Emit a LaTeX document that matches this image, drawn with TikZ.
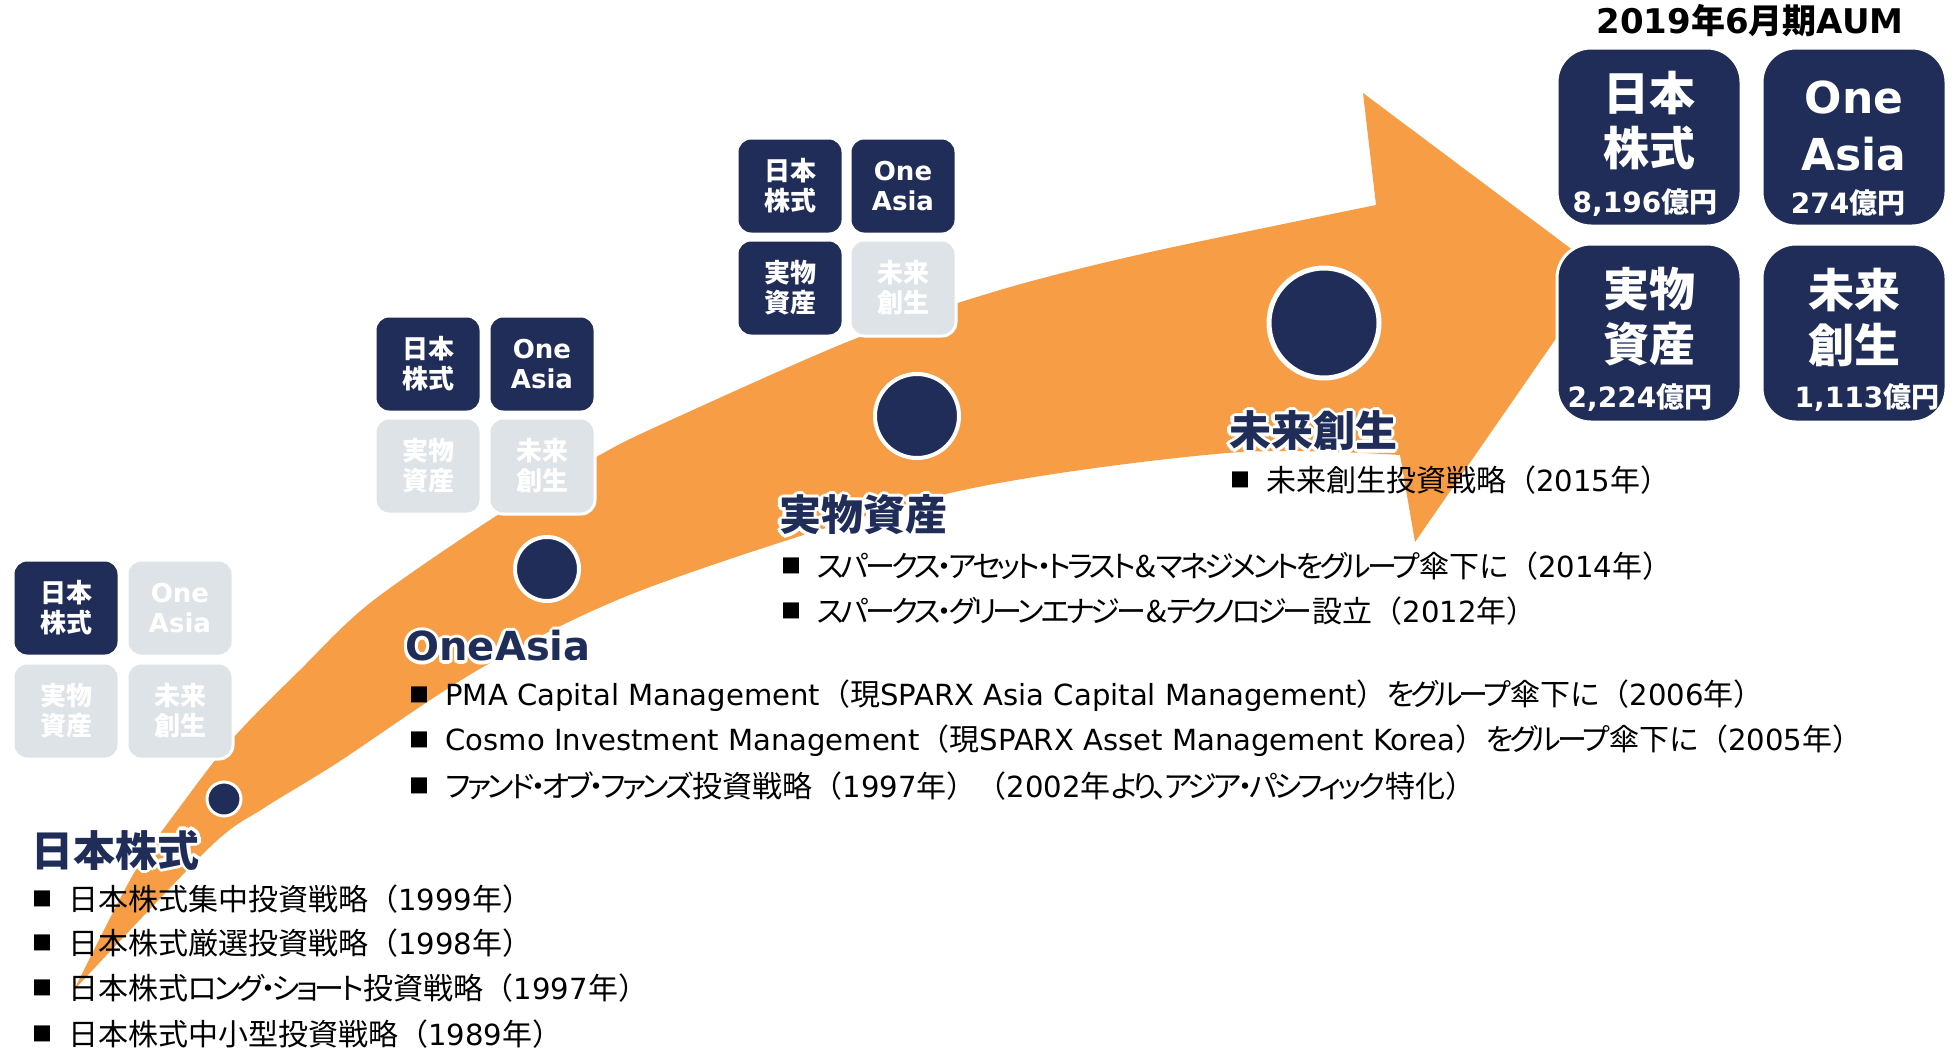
\documentclass[tikz,border=0pt]{standalone}
\usepackage{fontspec}
\setmainfont{Noto Sans CJK JP}
\newfontfamily\kn{Noto Sans CJK JP}[RawFeature=+palt, LetterSpace=-12]
\newfontfamily\lat{DejaVu Sans}
\newfontfamily\lt{DejaVu Sans}[Scale=0.97]

\definecolor{navy}{RGB}{31,45,88}
\definecolor{arroworange}{RGB}{246,157,69}
\definecolor{tilegray}{RGB}{222,227,232}

\tikzstyle{tile}=[rectangle, rounded corners=7pt, fill=navy, draw=white,
                  line width=1.5pt, minimum width=53pt, minimum height=48pt,
                  inner sep=0pt, align=center, text=white,
                  font=\bfseries\fontsize{13}{15}\selectfont]
\tikzstyle{tileoff}=[tile, fill=tilegray]
\tikzstyle{tilelat}=[font=\lat\bfseries\fontsize{13}{15}\selectfont]
\tikzstyle{bigtile}=[tile, rounded corners=17pt,
                     minimum width=92pt, minimum height=89pt]
\tikzstyle{bigtext}=[align=center, text=white, inner sep=0pt,
                     font=\bfseries\fontsize{23}{27.5}\selectfont]
\tikzstyle{amount}=[text=white, inner sep=0pt,
                    font=\bfseries\fontsize{14}{16}\selectfont]
\tikzstyle{milestone}=[circle, fill=navy, draw=white, line width=2pt, inner sep=0pt]
\tikzstyle{heading}=[inner sep=0pt, text=navy,
                     font=\bfseries\fontsize{21}{24}\selectfont]
\tikzstyle{entry}=[anchor=west, inner sep=0pt,
                   font=\fontsize{15}{17}\selectfont]

\newcommand{\bul}{\raisebox{1.9pt}{\fontsize{10}{10}\selectfont ■}\hspace{8pt}}
\newcommand{\glowhead}[3]{%
  \foreach \ang in {0,30,...,330}
    {\node at #2 [heading, text=white, shift={(\ang:1.6pt)}] {#3};}
  \node (#1) at #2 [heading] {#3};}

\begin{document}
\begin{tikzpicture}[x=0.5pt, y=-0.5pt]
  \fill[white] (0,0) rectangle (1959,1049);
  \useasboundingbox (0,0) rectangle (1959,1049);

  %%%%%%%%%%%%%%%%%%%%%%%%%%%%%%
  % arrow
  \fill[arroworange] plot[smooth] coordinates {(74,990) (134,873) (185,800)
      (235,736) (300,670) (370,603) (493,518) (598,456) (660,425) (852,340)
      (1000,290) (1146,253) (1376,205)}
    -- (1363,93) -- (1602,272) -- (1415,542)
    -- plot[smooth] coordinates {(1400,455) (1227,453) (950,493) (650,587)
      (483,667) (337,763) (264,808) (210,847) (74,990)} -- cycle;

  %%%%%%%%%%%%%%%%%%%%%%%%%%%%%%
  % tiles
  % 1989-
  \node (g1_jp) at (66,608) [tile] {日本\\株式};
  \node (g1_oa) at (180,608) [tileoff, tilelat] {One\\Asia};
  \node (g1_ra) at (66,711) [tileoff] {実物\\資産};
  \node (g1_fc) at (180,711) [tileoff] {未来\\創生};

  % 2005-
  \node (g2_jp) at (428,364) [tile] {日本\\株式};
  \node (g2_oa) at (542,364) [tile, tilelat] {One\\Asia};
  \node (g2_ra) at (428,466) [tileoff] {実物\\資産};
  \node (g2_fc) at (542,466) [tileoff] {未来\\創生};

  % 2012-
  \node (g3_jp) at (790,186) [tile] {日本\\株式};
  \node (g3_oa) at (903,186) [tile, tilelat] {One\\Asia};
  \node (g3_ra) at (790,288) [tile] {実物\\資産};
  \node (g3_fc) at (903,288) [tileoff] {未来\\創生};

  % AUM
  \node (aum) at (1750,21) [font=\bfseries\fontsize{17}{20}\selectfont]
        {{\lat 2019}年{\lat 6}月期{\lat AUM}};
  \node (big_jp) at (1649,137) [bigtile] {};
  \node (big_oa) at (1854,137) [bigtile] {};
  \node (big_ra) at (1649,333) [bigtile] {};
  \node (big_fc) at (1854,333) [bigtile] {};
  \node (big_jp_t) at (1649,121) [bigtext] {日本\\株式};
  \node (big_oa_t) at (1854,126) [bigtext, font=\lat\bfseries\fontsize{22}{28.5}\selectfont] {One\\Asia};
  \node (big_ra_t) at (1649,317) [bigtext] {実物\\資産};
  \node (big_fc_t) at (1854,317) [bigtext] {未来\\創生};
  \node (big_jp_v) at (1645,203) [amount] {{\lat 8,196}億円};
  \node (big_oa_v) at (1848,203) [amount] {{\lat 274}億円};
  \node (big_ra_v) at (1640,398) [amount] {{\lat 2,224}億円};
  \node (big_fc_v) at (1867,398) [amount] {{\lat 1,113}億円};

  %%%%%%%%%%%%%%%%%%%%%%%%%%%%%%
  % milestones
  \node (m_jp) at (224,799) [milestone, minimum size=17pt, line width=1.5pt] {};
  \node (m_oa) at (547,569) [milestone, minimum size=32pt] {};
  \node (m_ra) at (917,416) [milestone, minimum size=42pt] {};
  \node (m_fc) at (1324,323) [milestone, minimum size=55pt, line width=2.5pt] {};

  %%%%%%%%%%%%%%%%%%%%%%%%%%%%%%
  % headings
  \glowhead{h_jp}{(116,850)}{日本株式}
  \glowhead{h_oa}{(498,646)}{\lat\fontsize{20}{24}\selectfont OneAsia}
  \glowhead{h_ra}{(863,515)}{実物資産}
  \glowhead{h_fc}{(1313,431)}{未来創生}

  %%%%%%%%%%%%%%%%%%%%%%%%%%%%%%
  % entries
  \node (jp_1) at (32,899) [entry] {\bul 日本株式集中投資戦略（{\lt 1999}年）};
  \node (jp_2) at (32,943) [entry] {\bul 日本株式厳選投資戦略（{\lt 1998}年）};
  \node (jp_3) at (32,988) [entry] {\bul 日本株式{\kn ロング・ショート}投資戦略（{\lt 1997}年）};
  \node (jp_4) at (32,1034) [entry] {\bul 日本株式中小型投資戦略（{\lt 1989}年）};

  \node (oa_1) at (409,696) [entry] {\bul {\lt PMA Capital Management}（現{\lt SPARX Asia Capital Management}）{\kn をグループ}傘下{\kn に}（{\lt 2006}年）};
  \node (oa_2) at (409,741) [entry] {\bul {\lt Cosmo Investment Management}（現{\lt SPARX Asset Management Korea}）{\kn をグループ}傘下{\kn に}（{\lt 2005}年）};
  \node (oa_3) at (409,786) [entry] {\bul {\kn ファンド・オブ・ファンズ}投資戦略（{\lt 1997}年）（{\lt 2002}年{\kn より、アジア・パシフィック}特化）};

  \node (ra_1) at (781,566) [entry] {\bul {\kn スパークス・アセット・トラスト}\&{\kn マネジメントをグループ}傘下{\kn に}（{\lt 2014}年）};
  \node (ra_2) at (781,611) [entry] {\bul {\kn スパークス・グリーンエナジー}\&{\kn テクノロジー}設立（{\lt 2012}年）};

  \node (fc_1) at (1230,480) [entry] {\bul 未来創生投資戦略（{\lt 2015}年）};

\end{tikzpicture}
\end{document}
